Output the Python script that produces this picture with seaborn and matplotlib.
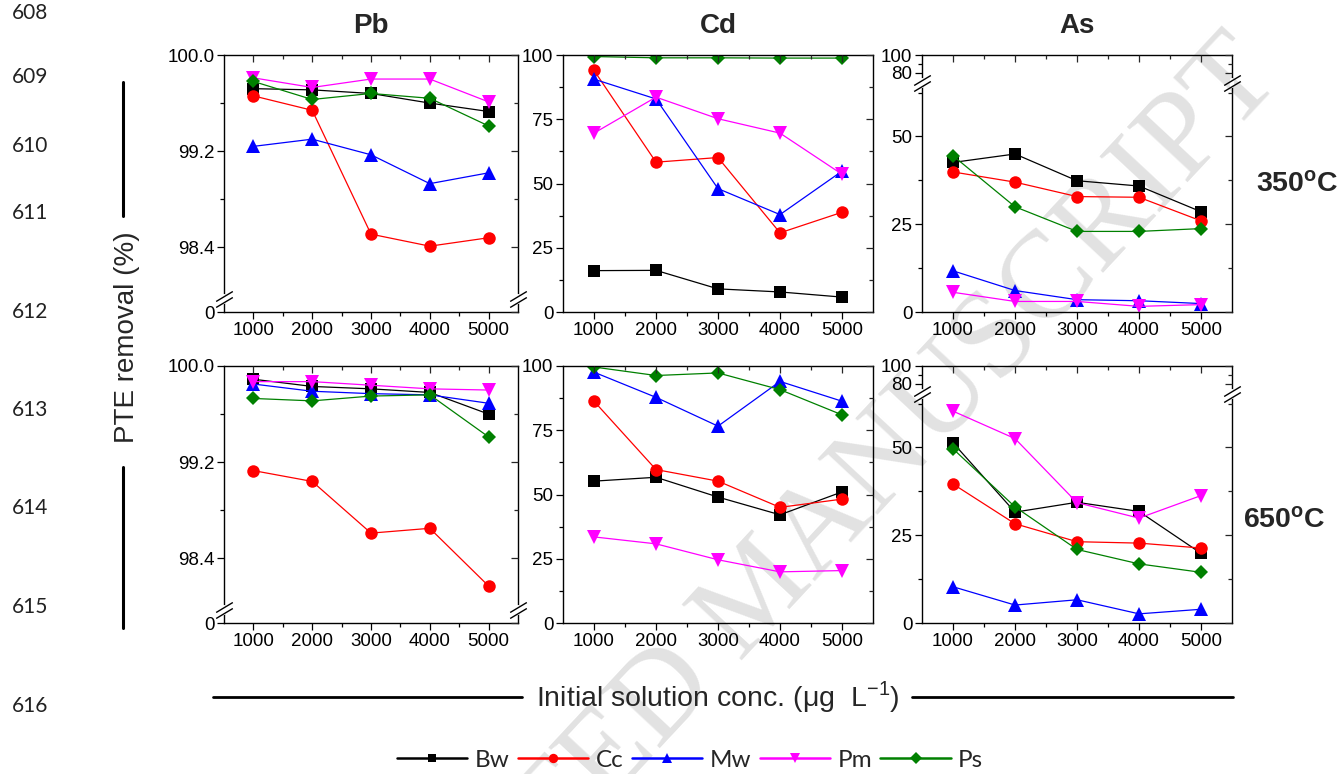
"""PTE removal by biochars at 350 and 650 C for Pb, Cd and As (broken y axes)."""

import numpy as np
import seaborn as sns
import matplotlib.pyplot as plt
from matplotlib.lines import Line2D

conc = [1000, 2000, 3000, 4000, 5000]
samples = ["Bw", "Cc", "Mw", "Pm", "Ps"]

pb_350 = {
    "Bw": [99.72, 99.71, 99.68, 99.60, 99.53],
    "Cc": [99.66, 99.54, 98.51, 98.41, 98.48],
    "Mw": [99.24, 99.30, 99.17, 98.93, 99.02],
    "Pm": [99.81, 99.73, 99.80, 99.80, 99.61],
    "Ps": [99.78, 99.63, 99.68, 99.64, 99.41],
}
cd_350 = {
    "Bw": [16.1, 16.2, 9.0, 7.8, 5.8],
    "Cc": [94.0, 58.3, 60.1, 30.8, 38.8],
    "Mw": [90.6, 82.9, 48.0, 37.9, 54.8],
    "Pm": [69.6, 83.6, 75.2, 69.6, 53.6],
    "Ps": [99.4, 98.9, 98.9, 98.8, 98.8],
}
as_350 = {
    "Bw": [42.5, 44.9, 37.3, 35.8, 28.5],
    "Cc": [39.8, 36.9, 32.8, 32.6, 25.9],
    "Mw": [11.7, 6.1, 3.5, 3.2, 2.4],
    "Pm": [5.6, 3.0, 3.0, 1.6, 2.1],
    "Ps": [44.4, 29.9, 22.9, 22.9, 23.7],
}
pb_650 = {
    "Bw": [99.89, 99.83, 99.81, 99.78, 99.60],
    "Cc": [99.13, 99.04, 98.61, 98.65, 98.17],
    "Mw": [99.85, 99.79, 99.77, 99.76, 99.69],
    "Pm": [99.87, 99.87, 99.84, 99.81, 99.80],
    "Ps": [99.73, 99.71, 99.75, 99.76, 99.41],
}
cd_650 = {
    "Bw": [55.2, 56.7, 49.0, 42.1, 51.0],
    "Cc": [86.3, 59.7, 55.2, 45.0, 48.2],
    "Mw": [97.6, 87.8, 76.6, 94.0, 86.3],
    "Pm": [33.5, 30.8, 24.6, 19.9, 20.4],
    "Ps": [99.6, 96.3, 97.3, 90.8, 81.0],
}
as_650 = {
    "Bw": [51.2, 31.5, 34.3, 31.7, 19.8],
    "Cc": [39.5, 28.2, 23.1, 22.7, 21.3],
    "Mw": [10.3, 5.1, 6.6, 2.6, 3.9],
    "Pm": [60.2, 52.4, 34.2, 29.8, 36.2],
    "Ps": [49.5, 33.0, 20.9, 16.8, 14.4],
}

line_numbers = ["608", "609", "610", "611", "612", "613", "614", "615", "616"]

colors = {"Bw": "black", "Cc": "#ff0000", "Mw": "#0000ff", "Pm": "#ff00ff", "Ps": "#008000"}
markers = {"Bw": "s", "Cc": "o", "Mw": "^", "Pm": "v", "Ps": "D"}
msizes = {"Bw": 8, "Cc": 9, "Mw": 10, "Pm": 10, "Ps": 7.5}

sns.set_theme(style="ticks")
plt.rcParams["font.family"] = ["Liberation Sans", "DejaVu Sans"]
plt.rcParams["mathtext.fontset"] = "custom"
plt.rcParams["mathtext.rm"] = "Liberation Sans"
plt.rcParams["mathtext.bf"] = "Liberation Sans:bold"

W, H = 1342, 774
fig = plt.figure(figsize=(W / 100, H / 100), dpi=100)


def px(x0, y0, x1, y1):
    return [x0 / W, 1 - y1 / H, (x1 - x0) / W, (y1 - y0) / H]


def interp_scale(v_knots, u_knots):
    def fwd(v):
        return np.interp(v, v_knots, u_knots)

    def inv(u):
        return np.interp(u, u_knots, v_knots)
    return fwd, inv


# y-axis settings per metal: (scale knots or None, major ticks, labels, minor ticks, break position)
y_setup = {
    "Pb": (([0, 1, 97.98, 100], [0, 0.04, 0.055, 1]),
           [0, 98.4, 99.2, 100.0], ["0", "98.4", "99.2", "100.0"], [98.8, 99.6], 0.05),
    "Cd": (None, [0, 25, 50, 75, 100], ["0", "25", "50", "75", "100"],
           [12.5, 37.5, 62.5, 87.5], None),
    "As": (([0, 62, 70, 100], [0, 0.849, 0.895, 1]),
           [0, 25, 50, 80, 100], ["0", "25", "50", "80", "100"], [12.5, 37.5, 62.5, 90], 0.89),
}

cols = {"Pb": (224, 518), "Cd": (563, 873), "As": (922, 1232)}
rows_px = {"350": (55, 312), "650": (366, 623)}
panels = {
    ("Pb", "350"): pb_350, ("Cd", "350"): cd_350, ("As", "350"): as_350,
    ("Pb", "650"): pb_650, ("Cd", "650"): cd_650, ("As", "650"): as_650,
}


def apply_y(a, metal):
    knots, major, labels, minor, _ = y_setup[metal]
    if knots is not None:
        a.set_yscale("function", functions=interp_scale(*knots))
    a.set_ylim(0, 100)
    a.set_yticks(major)
    a.set_yticks(minor, minor=True)
    return labels


for (metal, temp), data in panels.items():
    x0, x1 = cols[metal]
    y0, y1 = rows_px[temp]
    ax = fig.add_axes(px(x0, y0, x1, y1))
    ax.patch.set_alpha(0)
    for s in samples:
        sns.lineplot(x=conc, y=data[s], ax=ax, color=colors[s], marker=markers[s],
                     markersize=msizes[s], markeredgewidth=0, linewidth=0.9)
    ax.set_xlabel("")
    ax.set_ylabel("")
    ax.set_xlim(500, 5500)
    ax.set_xticks(conc)
    ax.set_xticks([1500, 2500, 3500, 4500], minor=True)
    labels = apply_y(ax, metal)
    ax.set_yticklabels(labels)
    ax.tick_params(which="major", length=5, width=0.9, pad=2, labelsize=13.5, colors="black")
    ax.tick_params(which="minor", length=3, width=0.9, colors="black")
    for sp in ax.spines.values():
        sp.set_linewidth(1.0)
        sp.set_color("black")

    # mirrored inward ticks on right and top
    axr = ax.twinx()
    apply_y(axr, metal)
    axr.tick_params(axis="y", which="both", direction="in", labelright=False, width=0.9)
    axr.tick_params(axis="y", which="major", length=5)
    axr.tick_params(axis="y", which="minor", length=3)
    axt = ax.twiny()
    axt.set_xlim(500, 5500)
    axt.set_xticks(conc)
    axt.set_xticks([1500, 2500, 3500, 4500], minor=True)
    axt.tick_params(axis="x", which="both", direction="in", labeltop=False, width=0.9)
    axt.tick_params(axis="x", which="major", length=5)
    axt.tick_params(axis="x", which="minor", length=3)
    for t in (axr, axt):
        for sp in t.spines.values():
            sp.set_visible(False)

    brk = y_setup[metal][4]
    if brk is not None:
        for xs in (0, 1):
            ax.plot([xs, xs], [brk - 0.012, brk + 0.012], transform=ax.transAxes,
                    color="white", lw=3, clip_on=False, zorder=5)
            ax.plot([xs, xs], [brk - 0.012, brk + 0.012], transform=ax.transAxes,
                    linestyle="none", marker=[(-1, -0.6), (1, 0.6)], markersize=12,
                    color="black", mec="black", mew=1, clip_on=False, zorder=6)

# column and row titles
for metal, (x0, x1) in cols.items():
    fig.text((x0 + x1) / 2 / W, 1 - 26 / H, metal, ha="center", va="center",
             fontsize=20, fontweight="bold")
fig.text(1256 / W, 1 - 185 / H, r"$\mathbf{350^{o}C}$", ha="left", va="center", fontsize=20.5)
fig.text(1243 / W, 1 - 520 / H, r"$\mathbf{650^{o}C}$", ha="left", va="center", fontsize=20.5)

# shared axis labels with rule lines
fig.text(127 / W, 1 - 337 / H, "PTE removal (%)", rotation=90, ha="center", va="center",
         fontsize=20)
fig.add_artist(Line2D([123 / W, 123 / W], [1 - 82 / H, 1 - 216 / H], color="black", lw=2.2))
fig.add_artist(Line2D([123 / W, 123 / W], [1 - 467 / H, 1 - 628 / H], color="black", lw=2.2))
fig.text(718 / W, 1 - 697 / H, r"Initial solution conc. (μg  L$^{-1}$)", ha="center",
         va="center", fontsize=20.5)
fig.add_artist(Line2D([213 / W, 522 / W], [1 - 697 / H] * 2, color="black", lw=2))
fig.add_artist(Line2D([912 / W, 1233 / W], [1 - 697 / H] * 2, color="black", lw=2))

# legend
handles = [Line2D([], [], color=colors[s], marker=markers[s], markersize=msizes[s] * 0.75,
                  markeredgewidth=0, lw=1.8) for s in samples]
fig.legend(handles, samples, ncol=5, loc="center", bbox_to_anchor=(690 / W, 1 - 760 / H),
           frameon=False, handlelength=2.9, handletextpad=0.3, columnspacing=0.35,
           prop={"family": "Lato", "size": 17.5})

# manuscript line numbers
line_y = [13, 77, 146, 213, 312, 410, 508, 607, 706]
for lab, yy in zip(line_numbers, line_y):
    fig.text(12 / W, 1 - yy / H, lab, ha="left", va="center", fontsize=15,
             family="Lato", color="#222222")

# watermark
fig.text(762 / W, 1 - 595 / H, "ACCEPTED MANUSCRIPT", rotation=47, rotation_mode="anchor",
         ha="center", va="center", fontsize=89, family="Liberation Serif",
         color="#e2e2e2", zorder=-1)

plt.savefig("out.png", dpi=100)
